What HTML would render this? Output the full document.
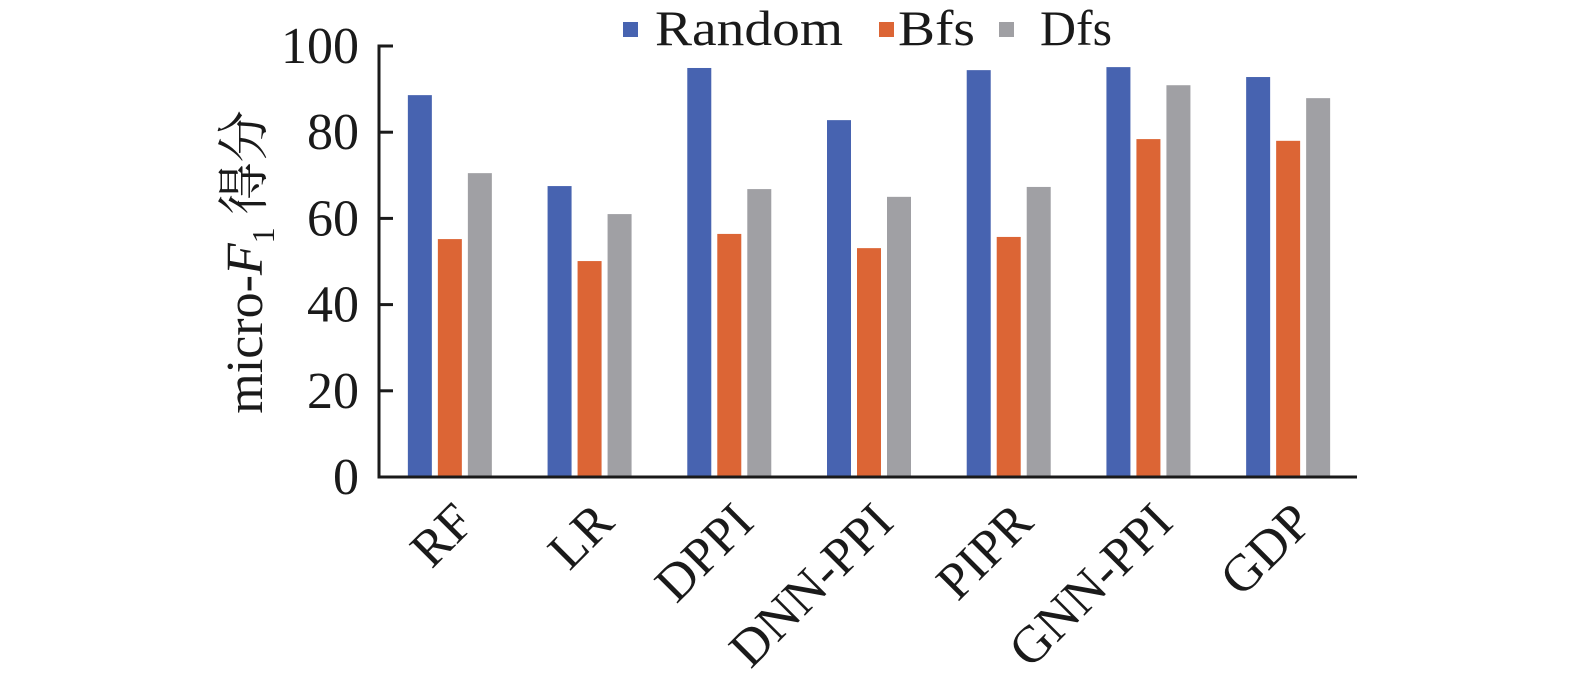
<!DOCTYPE html>
<html><head><meta charset="utf-8"><style>
body{margin:0;background:#fff}
svg text{font-family:"Liberation Serif","Noto Serif CJK SC",serif;fill:#1a1a1a}
</style></head><body>
<svg id="c" width="1575" height="690" xmlns="http://www.w3.org/2000/svg">
<g id="legend">
<rect x="623" y="22" width="15" height="15" fill="#4763b0"/>
<text x="655" y="45" font-size="50" textLength="188" lengthAdjust="spacingAndGlyphs">Random</text>
<rect x="879" y="22" width="15" height="15" fill="#dc6535"/>
<text x="898" y="45" font-size="50" textLength="77" lengthAdjust="spacingAndGlyphs">Bfs</text>
<rect x="999" y="22" width="15" height="15" fill="#a0a0a4"/>
<text x="1040" y="45" font-size="50" textLength="72" lengthAdjust="spacingAndGlyphs">Dfs</text>
</g>
<text transform="translate(262,262) rotate(-90)" text-anchor="middle" font-size="52">micro-<tspan font-style="italic">F</tspan><tspan font-size="32" dy="12">1</tspan><tspan dy="-12"> 得分</tspan></text>
</svg>
<script>
const categories=["RF","LR","DPPI","DNN-PPI","PIPR","GNN-PPI","GDP"];
const randomVals=[88.6,67.5,94.9,82.8,94.4,95.1,92.8];
const bfsVals=[55.2,50.1,56.4,53.1,55.7,78.4,78.0];
const dfsVals=[70.5,61.0,66.8,65.0,67.3,90.9,87.9];
const yTicks=[0,20,40,60,80,100];
const NS="http://www.w3.org/2000/svg";
const svg=document.getElementById('c');
const x0=379,x1=1357,y0=477,y1=46;
const y=v=>y0-(v/100)*(y0-y1);
const gw=(x1-x0)/categories.length;
function mk(t,a){const e=document.createElementNS(NS,t);for(const k in a)e.setAttribute(k,a[k]);svg.appendChild(e);return e;}
const series=[[randomVals,"#4763b0","random"],[bfsVals,"#dc6535","bfs"],[dfsVals,"#a0a0a4","dfs"]];
categories.forEach((c,i)=>{
  const cx=x0+gw*(i+0.5);
  series.forEach((s,j)=>{
    const bx=cx-41+j*30;
    const r=mk('rect',{x:bx,y:y(s[0][i]),width:24,height:y0-y(s[0][i]),fill:s[1]});
    
    
  });
  const t=mk('text',{transform:`translate(${cx+2},${y0+22}) rotate(-45)`,'text-anchor':'end','font-size':52,dy:'0.7em'});
  t.textContent=c;
  
  
});
const ax=mk('path',{d:`M${x0+14},${y1}H${x0}V${y0}H${x1}`,fill:'none',stroke:'#1a1a1a','stroke-width':3});


yTicks.forEach(v=>{
  const tk=mk('line',{x1:x0,x2:x0+14,y1:y(v),y2:y(v),stroke:'#1a1a1a','stroke-width':3});
  
  
  const t=mk('text',{x:359,y:y(v)+17,'text-anchor':'end','font-size':52});
  t.textContent=v;
  
  
});
</script>
</body></html>
